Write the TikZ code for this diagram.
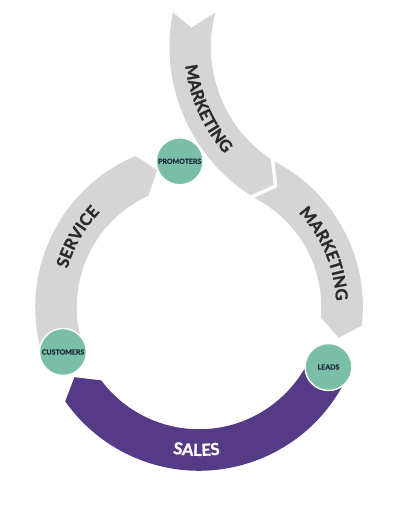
\documentclass[tikz,border=0pt]{standalone}
\usepackage{fontspec}
\setmainfont{Lato}
\newfontfamily\heavyfont[BoldFeatures={FakeBold=1.3}]{Lato}
\newfontfamily\smallheavy[BoldFeatures={FakeBold=0.6}]{Lato}
\usetikzlibrary{decorations.text}
\definecolor{ringgray}{HTML}{D5D5D5}
\definecolor{salespurple}{HTML}{553B85}
\definecolor{tealc}{HTML}{7BBEA7}
\definecolor{navyc}{HTML}{1C2B3B}
\definecolor{labelgray}{HTML}{2B2B2B}
\begin{document}
\begin{tikzpicture}[x=1pt,y=1pt,
  grayband/.style={fill=ringgray, draw=none},
  purpleband/.style={fill=salespurple, draw=none},
  circ/.style={circle, fill=tealc, draw=white, line width=1.4pt, minimum size=47pt,
    inner sep=0pt, font=\smallheavy\bfseries\fontsize{7}{7}\selectfont, text=navyc},
  bandtext/.style={decorate, decoration={text along path, text align=center, text color=labelgray}},
  whitetext/.style={decorate, decoration={text along path, text align=center, text color=white}},
  joint/.style={draw=white, line width=3.5pt, shorten <=-2pt, shorten >=-2pt}
]
\useasboundingbox (0,0) rectangle (401,529);
\fill[white] (0,0) rectangle (401,529);
\coordinate (R) at (199,222);
\coordinate (T) at (346.24,482.24);
\coordinate (A) at (272.67,368.46);
\coordinate (B) at (252.23,332.34);
\coordinate (V) at (275.5,343.0);

% top MARKETING arrow
\begin{scope}[shift={(T)}]
  \fill[grayband] (168.8:176.75) arc[start angle=168.8, end angle=237.91, radius=176.75]
    -- (V) -- (A) arc[start angle=237.11, end angle=165.3, radius=135.25]
    -- (173:156) -- cycle;
  \path[bandtext, decoration={text={|\heavyfont\bfseries\fontsize{16.5}{16.5}\selectfont|MARKETING}}]
    (174:161.9) arc[start angle=174, end angle=234, radius=161.9];
\end{scope}

\begin{scope}[shift={(R)}]
  % right MARKETING arrow
  \fill[grayband] (A) arc[start angle=63.30, end angle=-6.6, radius=163.75]
    -- (-12.4:143) -- (-4.9:122.25) arc[start angle=-4.9, end angle=64.25, radius=122.25]
    -- (V) -- cycle;
  % SERVICE arrow
  \fill[grayband] (198:163.75) arc[start angle=198, end angle=112.8, radius=163.75]
    -- (107:143) -- (114.5:122.25) arc[start angle=114.5, end angle=198, radius=122.25] -- cycle;
  % SALES arrow
  \fill[purpleband] (-25:163.75) arc[start angle=-25, end angle=-144.8, radius=163.75]
    -- (-150.6:143) -- (-143.1:122.25) arc[start angle=-143.1, end angle=-25, radius=122.25] -- cycle;

  \path[bandtext, decoration={text={|\heavyfont\bfseries\fontsize{16.5}{16.5}\selectfont|MARKETING}}]
    (53:137.1) arc[start angle=53, end angle=-7, radius=137.1];
  \path[bandtext, decoration={text={|\heavyfont\bfseries\fontsize{16.5}{16.5}\selectfont|SERVICE}}]
    (180:137.1) arc[start angle=180, end angle=120, radius=137.1];
  \path[whitetext, decoration={text={|\heavyfont\bfseries\fontsize{16.5}{16.5}\selectfont|SALES}}]
    (239:148.9) arc[start angle=239, end angle=299, radius=148.9];
\end{scope}

\draw[joint] (A) -- (V) -- (B);

\node[circ] (promoters) at (179.7,367.7) {PROMOTERS};
\node[circ] (customers) at (63,177) {CUSTOMERS};
\node[circ] (leads) at (328.5,162) {LEADS};
\end{tikzpicture}
\end{document}
